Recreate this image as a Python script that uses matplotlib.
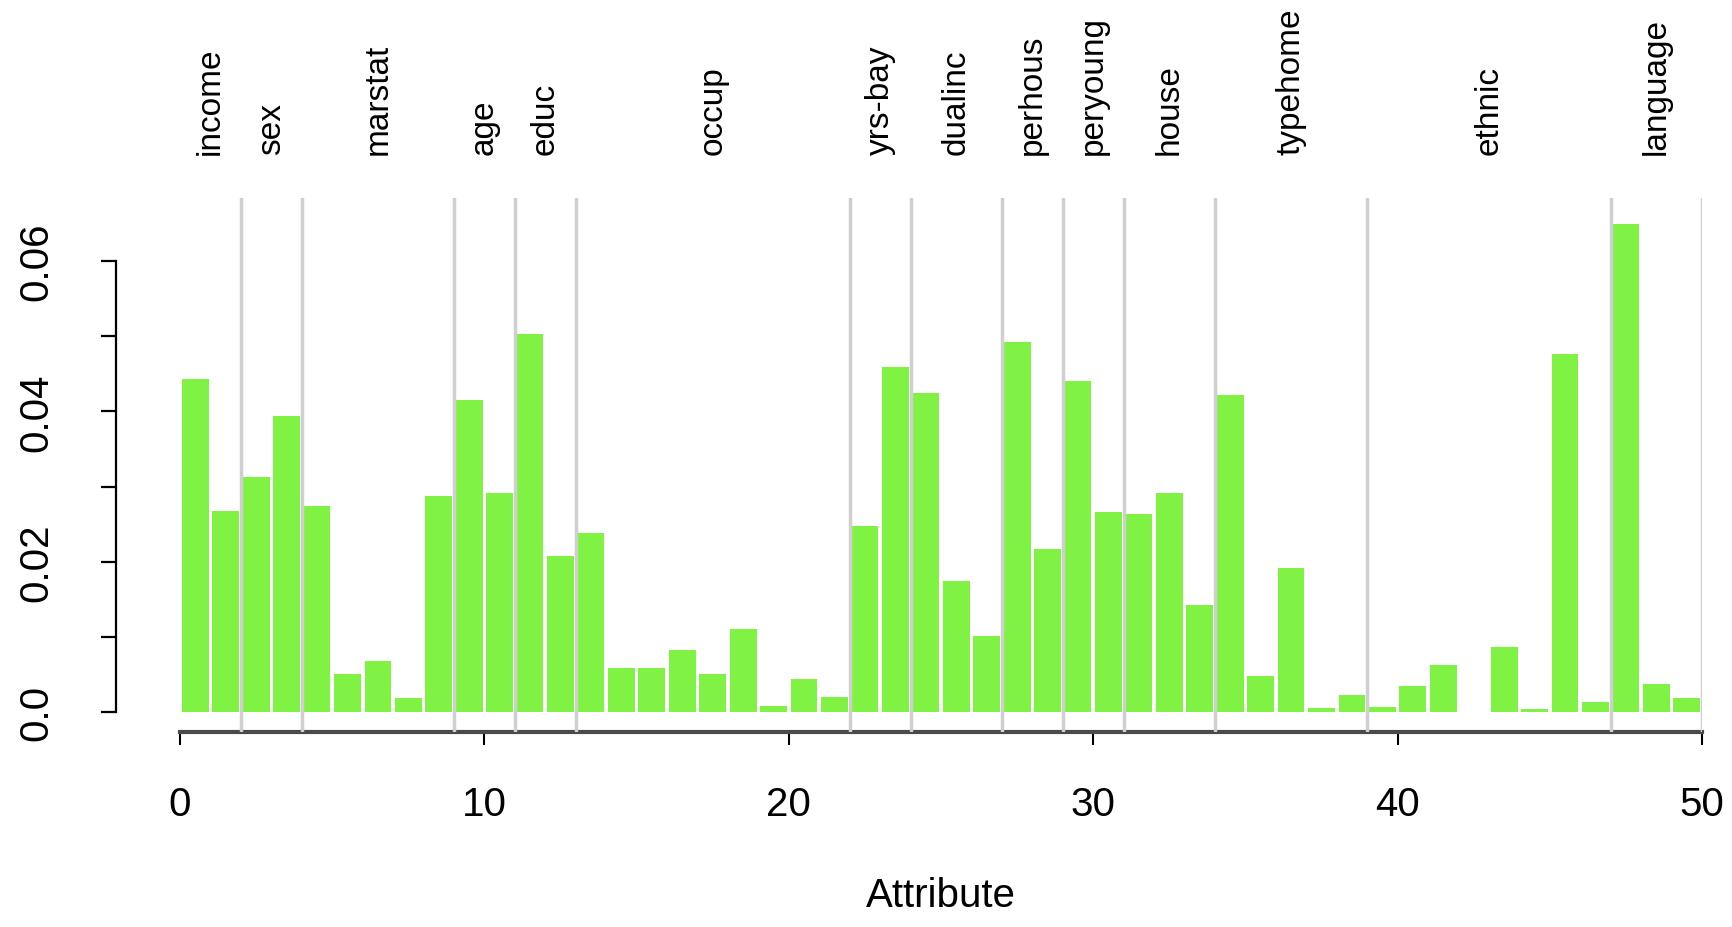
import matplotlib
matplotlib.use("Agg")
import matplotlib.pyplot as plt
import numpy as np

plt.rcParams['font.family'] = ['Liberation Sans', 'DejaVu Sans']

# importance of each attribute (bar heights)
importance = [0.0443, 0.0268, 0.0313, 0.0394, 0.0274, 0.0051, 0.0068, 0.0019,
              0.0288, 0.0415, 0.0292, 0.0503, 0.0207, 0.0238, 0.0058, 0.0058,
              0.0082, 0.0050, 0.0111, 0.0008, 0.0044, 0.0020, 0.0248, 0.0459,
              0.0425, 0.0175, 0.0101, 0.0492, 0.0217, 0.0441, 0.0266, 0.0263,
              0.0292, 0.0142, 0.0422, 0.0048, 0.0192, 0.0005, 0.0023, 0.0007,
              0.0034, 0.0062, 0.0, 0.0087, 0.0004, 0.0476, 0.0013, 0.0650,
              0.0037, 0.0019]

# attribute groups and where each one ends
groups = ['income', 'sex', 'marstat', 'age', 'educ', 'occup', 'yrs-bay',
          'dualinc', 'perhous', 'peryoung', 'house', 'typehome', 'ethnic',
          'language']
group_edges = [0, 2, 4, 9, 11, 13, 22, 24, 27, 29, 31, 34, 39, 47, 50]

fig = plt.figure(figsize=(17.33, 9.28), dpi=100)
ax = fig.add_axes([0.1039, 0.2101, 0.8782, 0.5755])

x = np.arange(len(importance))
ax.bar(x + 0.5, importance, width=0.88, color='#80f244', zorder=2)

# grey separators between attribute groups
for e in group_edges[1:]:
    ax.axvline(e, color='#cfcfcf', lw=2.5, zorder=4)

# group names above the plot
for name, lo, hi in zip(groups, group_edges[:-1], group_edges[1:]):
    ax.text((lo + hi) / 2, 1.082, name, rotation=90, ha='center', va='bottom',
            fontsize=24, transform=ax.get_xaxis_transform(), clip_on=False)

ax.set_xlim(0, 50)
ax.set_ylim(-0.00266, 0.0684)

for s in ['top', 'right']:
    ax.spines[s].set_visible(False)
ax.spines['bottom'].set_color('#4a4a4a')
ax.spines['bottom'].set_linewidth(3)
ax.spines['bottom'].set_zorder(3)
ax.spines['left'].set_position(('outward', 46))
ax.spines['left'].set_bounds(0, 0.06)
ax.spines['left'].set_linewidth(1.6)

ax.set_xticks(np.arange(0, 51, 10))
ax.tick_params(axis='x', length=9, width=1.5, pad=29, labelsize=29)
yt = np.arange(0, 0.061, 0.01)
ax.set_yticks(yt)
ax.set_yticklabels(['0.0', '', '0.02', '', '0.04', '', '0.06'],
                   rotation=90, va='center')
ax.tick_params(axis='y', length=11, width=1.6, pad=33, labelsize=29)

ax.set_xlabel('Attribute', fontsize=29, labelpad=38)

fig.savefig('out.png', dpi=100)
